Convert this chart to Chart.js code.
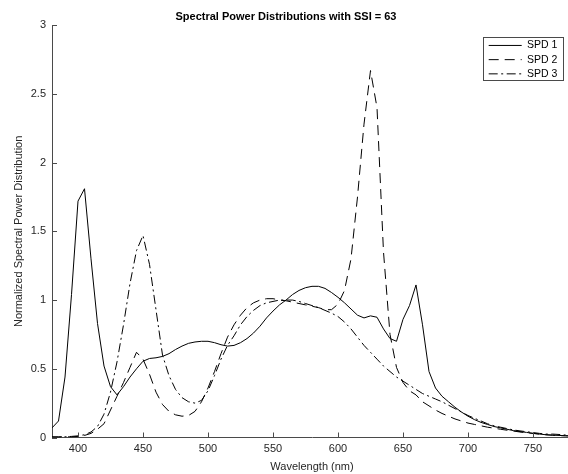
<!DOCTYPE html>
<html>
<head>
<meta charset="utf-8">
<title>Spectral Power Distributions with SSI = 63</title>
<script src="https://cdn.jsdelivr.net/npm/chart.js"></script>
<style>
  html, body { margin: 0; padding: 0; background: #fff; overflow: hidden; }
  #wrap { width: 568px; height: 474px; overflow: hidden; }
</style>
</head>
<body>
<div id="wrap"><canvas id="spdChart" width="580" height="474"></canvas></div>
<script>
// --- data (5 nm steps) ---
const wavelengths = [
  380, 385, 390, 395, 400, 405, 410, 415, 420, 425, 430, 435, 440, 445, 450, 455, 460, 465, 470, 475,
  480, 485, 490, 495, 500, 505, 510, 515, 520, 525, 530, 535, 540, 545, 550, 555, 560, 565, 570, 575,
  580, 585, 590, 595, 600, 605, 610, 615, 620, 625, 630, 635, 640, 645, 650, 655, 660, 665, 670, 675,
  680, 685, 690, 695, 700, 705, 710, 715, 720, 725, 730, 735, 740, 745, 750, 755, 760, 765, 770, 775,
  780
];

const spd1 = [
  0.07, 0.12, 0.44, 1.04, 1.72, 1.81, 1.30, 0.83, 0.52, 0.37, 0.31, 0.37, 0.44, 0.50, 0.555, 0.575, 0.58, 0.59, 0.61, 0.64,
  0.665, 0.685, 0.695, 0.70, 0.70, 0.69, 0.675, 0.665, 0.67, 0.69, 0.72, 0.76, 0.81, 0.87, 0.92, 0.965, 1.0, 1.04, 1.07, 1.09,
  1.10, 1.10, 1.085, 1.055, 1.02, 0.98, 0.935, 0.89, 0.87, 0.885, 0.875, 0.79, 0.72, 0.70, 0.86, 0.96, 1.11, 0.82, 0.48, 0.36,
  0.30, 0.26, 0.22, 0.185, 0.155, 0.13, 0.11, 0.095, 0.08, 0.07, 0.06, 0.05, 0.043, 0.037, 0.03, 0.025, 0.02, 0.017, 0.015, 0.013,
  0.012
];

const spd2 = [
  0.005, 0.005, 0.005, 0.005, 0.008, 0.015, 0.03, 0.06, 0.10, 0.20, 0.30, 0.40, 0.51, 0.62, 0.57, 0.46, 0.33, 0.24, 0.19, 0.165,
  0.155, 0.16, 0.19, 0.26, 0.36, 0.48, 0.61, 0.73, 0.82, 0.89, 0.945, 0.98, 1.0, 1.01, 1.01, 1.0, 0.995, 0.985, 0.975, 0.965,
  0.955, 0.945, 0.93, 0.93, 0.97, 1.07, 1.30, 1.75, 2.28, 2.67, 2.40, 1.35, 0.75, 0.51, 0.40, 0.34, 0.31, 0.26, 0.23, 0.20,
  0.175, 0.155, 0.135, 0.12, 0.105, 0.095, 0.085, 0.075, 0.068, 0.06, 0.053, 0.047, 0.04, 0.035, 0.03, 0.025, 0.02, 0.017, 0.014, 0.012,
  0.01
];

const spd3 = [
  0.003, 0.003, 0.005, 0.008, 0.012, 0.02, 0.04, 0.08, 0.17, 0.33, 0.55, 0.82, 1.12, 1.36, 1.47, 1.26, 0.93, 0.60, 0.45, 0.35,
  0.29, 0.26, 0.25, 0.27, 0.34, 0.45, 0.57, 0.67, 0.74, 0.82, 0.88, 0.925, 0.96, 0.98, 0.99, 1.0, 1.0, 1.0, 0.99, 0.975,
  0.96, 0.945, 0.925, 0.905, 0.88, 0.84, 0.79, 0.73, 0.67, 0.62, 0.57, 0.52, 0.48, 0.44, 0.41, 0.38, 0.35, 0.32, 0.30, 0.28,
  0.26, 0.235, 0.21, 0.185, 0.16, 0.14, 0.12, 0.10, 0.085, 0.075, 0.065, 0.055, 0.048, 0.042, 0.036, 0.03, 0.025, 0.025, 0.022, 0.018,
  0.015
];

const seriesNames = ['SPD 1', 'SPD 2', 'SPD 3'];
const xTicks = [400, 450, 500, 550, 600, 650, 700, 750];
const yTicks = [0, 0.5, 1, 1.5, 2, 2.5, 3];

const FONT = 'Liberation Sans, Arial, Helvetica, sans-serif';
const AXIS_COLOR = '#4a4a4a';
const TEXT_COLOR = '#262626';
const DASHES = [[], [10, 6], [9, 3.5, 2, 3.5]];

function toPoints(values) {
  return wavelengths.map((w, i) => ({ x: w, y: values[i] }));
}

// MATLAB style tick marks pointing into the plot
const inwardTicks = {
  id: 'inwardTicks',
  afterDatasetsDraw(chart) {
    const { ctx, chartArea, scales } = chart;
    const len = 5;
    ctx.save();
    ctx.strokeStyle = AXIS_COLOR;
    ctx.lineWidth = 1;
    ctx.beginPath();
    scales.x.ticks.forEach(t => {
      const px = Math.round(scales.x.getPixelForValue(t.value)) + 0.5;
      ctx.moveTo(px, chartArea.bottom);
      ctx.lineTo(px, chartArea.bottom - len);
    });
    scales.y.ticks.forEach(t => {
      const py = Math.round(scales.y.getPixelForValue(t.value)) + 0.5;
      ctx.moveTo(chartArea.left, py);
      ctx.lineTo(chartArea.left + len, py);
    });
    ctx.stroke();
    ctx.restore();
  }
};

// put the legend in the top right corner of the axes and frame it
const legendFrame = {
  id: 'legendFrame',
  afterLayout(chart) {
    const lg = chart.legend;
    lg.left = 485;
    lg.top = 36.5;
    lg.right = lg.left + lg.width;
    lg.bottom = lg.top + lg.height;
  },
  afterDraw(chart) {
    const ctx = chart.ctx;
    ctx.save();
    ctx.strokeStyle = AXIS_COLOR;
    ctx.lineWidth = 1;
    ctx.strokeRect(483.5, 37.5, 80, 43);
    ctx.restore();
  }
};

const ctx = document.getElementById('spdChart').getContext('2d');
new Chart(ctx, {
  type: 'line',
  data: {
    datasets: [
      { label: seriesNames[0], data: toPoints(spd1), borderColor: '#000', borderWidth: 1, borderDash: DASHES[0] },
      { label: seriesNames[1], data: toPoints(spd2), borderColor: '#000', borderWidth: 1, borderDash: DASHES[1] },
      { label: seriesNames[2], data: toPoints(spd3), borderColor: '#000', borderWidth: 1, borderDash: DASHES[2] }
    ]
  },
  options: {
    responsive: false,
    animation: false,
    layout: { padding: { left: 0, right: 8, top: 0, bottom: 0 } },
    elements: {
      point: { radius: 0 },
      line: { tension: 0, fill: false }
    },
    plugins: {
      tooltip: { enabled: false },
      title: {
        display: true,
        text: 'Spectral Power Distributions with SSI = 63',
        color: '#000',
        font: { family: FONT, size: 11, weight: 'bold' },
        padding: { top: 10, bottom: 2 }
      },
      legend: {
        position: 'chartArea',
        align: 'start',
        labels: {
          color: '#000',
          font: { family: FONT, size: 10.5 },
          usePointStyle: true,
          pointStyle: 'line',
          pointStyleWidth: 33,
          padding: 3.7,
          // point-style legend items lose the dataset dash, so put it back
          generateLabels: chart => Chart.defaults.plugins.legend.labels.generateLabels(chart).map((item, i) => {
            item.lineDash = chart.data.datasets[i].borderDash;
            item.lineWidth = 1;
            item.strokeStyle = '#000';
            return item;
          })
        }
      }
    },
    scales: {
      x: {
        type: 'linear',
        min: 380,
        max: 780,
        afterBuildTicks: s => { s.ticks = xTicks.map(v => ({ value: v })); },
        afterFit: s => { s.height = 36.5; },
        grid: { display: false, drawTicks: false },
        border: { display: true, color: AXIS_COLOR, width: 1 },
        ticks: {
          color: TEXT_COLOR, padding: 5, maxRotation: 0,
          font: { family: FONT, size: 11 },
          callback: v => String(v)
        },
        title: {
          display: true, text: 'Wavelength (nm)', color: TEXT_COLOR,
          font: { family: FONT, size: 11 },
          padding: { top: 0, bottom: 0 }
        }
      },
      y: {
        type: 'linear',
        min: 0,
        max: 3,
        afterBuildTicks: s => { s.ticks = yTicks.map(v => ({ value: v })); },
        afterFit: s => { s.width = 52; },
        grid: { display: false, drawTicks: false },
        border: { display: true, color: AXIS_COLOR, width: 1 },
        ticks: {
          color: TEXT_COLOR, padding: 6,
          font: { family: FONT, size: 11 },
          callback: v => String(v)
        },
        title: {
          display: true, text: 'Normalized Spectral Power Distribution', color: TEXT_COLOR,
          font: { family: FONT, size: 11 },
          padding: { top: 12, bottom: 0 }
        }
      }
    }
  },
  plugins: [inwardTicks, legendFrame]
});
</script>
</body>
</html>
